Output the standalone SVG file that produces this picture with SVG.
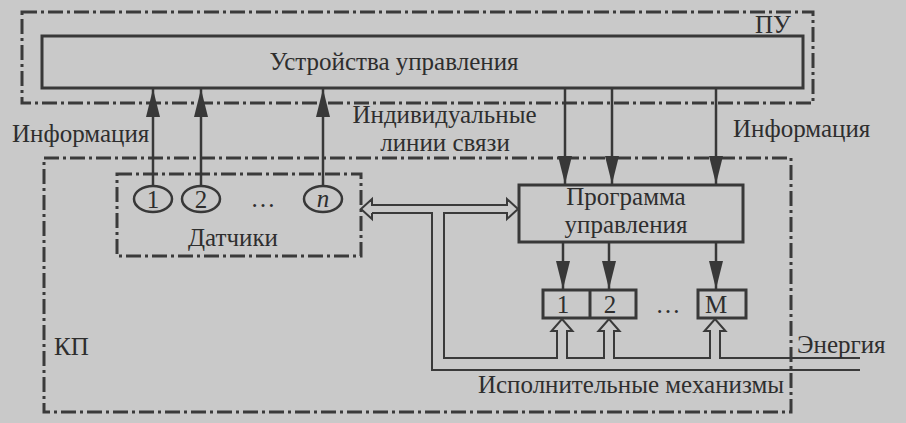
<svg xmlns="http://www.w3.org/2000/svg" width="906" height="423" viewBox="0 0 906 423">
<style>
.bg{fill:#c9c9c9}
.dd{fill:none;stroke:#3a3a3a;stroke-width:3;stroke-dasharray:15 4 3 4}
.box{fill:none;stroke:#383838;stroke-width:3}
.ar{fill:none;stroke:#383838;stroke-width:2.5}
.pipe{fill:none;stroke:#3a3a3a;stroke-width:2}
.el{fill:none;stroke:#383838;stroke-width:2.5}
text{font-family:"Liberation Serif","Times New Roman",serif;font-size:25px;fill:#2e2e2e}
.c{text-anchor:middle}
</style>
<defs>
<marker id="ah" markerUnits="userSpaceOnUse" markerWidth="28" markerHeight="14" viewBox="0 0 28 14" refX="28" refY="7" orient="auto">
<path d="M0,0 L28,7 L0,14 z" fill="#383838"/>
</marker>
</defs>
<rect class="bg" x="0" y="0" width="906" height="423"/>

<g id="pu-zone">
<rect class="dd" x="22" y="12" width="791" height="91"/>
<text x="755" y="33">ПУ</text>
</g>

<g id="kp-zone">
<rect class="dd" x="44" y="158" width="747" height="254"/>
<text x="54" y="355">КП</text>
</g>

<g id="control-devices">
<rect class="box" x="42" y="36" width="761" height="52"/>
<text class="c" x="394" y="70">Устройства управления</text>
</g>

<g id="sensors">
<rect class="dd" x="117" y="174" width="244" height="82"/>
<ellipse class="el" cx="153" cy="199" rx="19" ry="13"/>
<text class="c" x="153" y="208">1</text>
<ellipse class="el" cx="201" cy="199" rx="19" ry="13"/>
<text class="c" x="201" y="208">2</text>
<text class="c" x="263" y="207">…</text>
<ellipse class="el" cx="323" cy="199" rx="19" ry="13"/>
<text class="c" x="323" y="207" font-style="italic">n</text>
<text class="c" x="233" y="246">Датчики</text>
</g>

<g id="program">
<rect class="box" x="519" y="185" width="224" height="57"/>
<text class="c" x="626" y="205">Программа</text>
<text class="c" x="626" y="233">управления</text>
</g>

<g id="actuators">
<rect class="box" x="543" y="290" width="93" height="28"/>
<line class="box" x1="590" y1="290" x2="590" y2="318"/>
<text class="c" x="563" y="313">1</text>
<text class="c" x="610" y="313">2</text>
<text class="c" x="668" y="313">…</text>
<rect class="box" x="698" y="290" width="48" height="28"/>
<text class="c" x="716" y="313">М</text>
</g>

<g id="connectors">
<line class="ar" x1="153" y1="186" x2="153" y2="89" marker-end="url(#ah)"/>
<line class="ar" x1="201" y1="186" x2="201" y2="89" marker-end="url(#ah)"/>
<line class="ar" x1="323" y1="186" x2="323" y2="89" marker-end="url(#ah)"/>
<line class="ar" x1="565" y1="89" x2="565" y2="184" marker-end="url(#ah)"/>
<line class="ar" x1="612" y1="89" x2="612" y2="184" marker-end="url(#ah)"/>
<line class="ar" x1="716" y1="89" x2="716" y2="184" marker-end="url(#ah)"/>
<line class="ar" x1="563" y1="243" x2="563" y2="289" marker-end="url(#ah)"/>
<line class="ar" x1="609" y1="243" x2="609" y2="289" marker-end="url(#ah)"/>
<line class="ar" x1="716" y1="243" x2="716" y2="289" marker-end="url(#ah)"/>
<path class="pipe" d="M372,213 V219 L361,209 L372,199 V205 H507 V199 L518,209 L507,219 V213 H444 V358 H557 V331 H551.5 L562,319 L572.5,331 H567 V358 H604 V331 H598.5 L609,319 L619.5,331 H614 V358 H710 V331 H704.5 L715,319 L725.5,331 H720 V358 H860"/>
<path class="pipe" d="M372,213 H432 V370 H860"/>
</g>

<g id="labels">
<text x="12" y="142">Информация</text>
<text class="c" x="444.5" y="123">Индивидуальные</text>
<text class="c" x="445" y="151">линии связи</text>
<text x="733" y="137">Информация</text>
<text x="797" y="353">Энергия</text>
<text class="c" x="631" y="393">Исполнительные механизмы</text>
</g>
</svg>
